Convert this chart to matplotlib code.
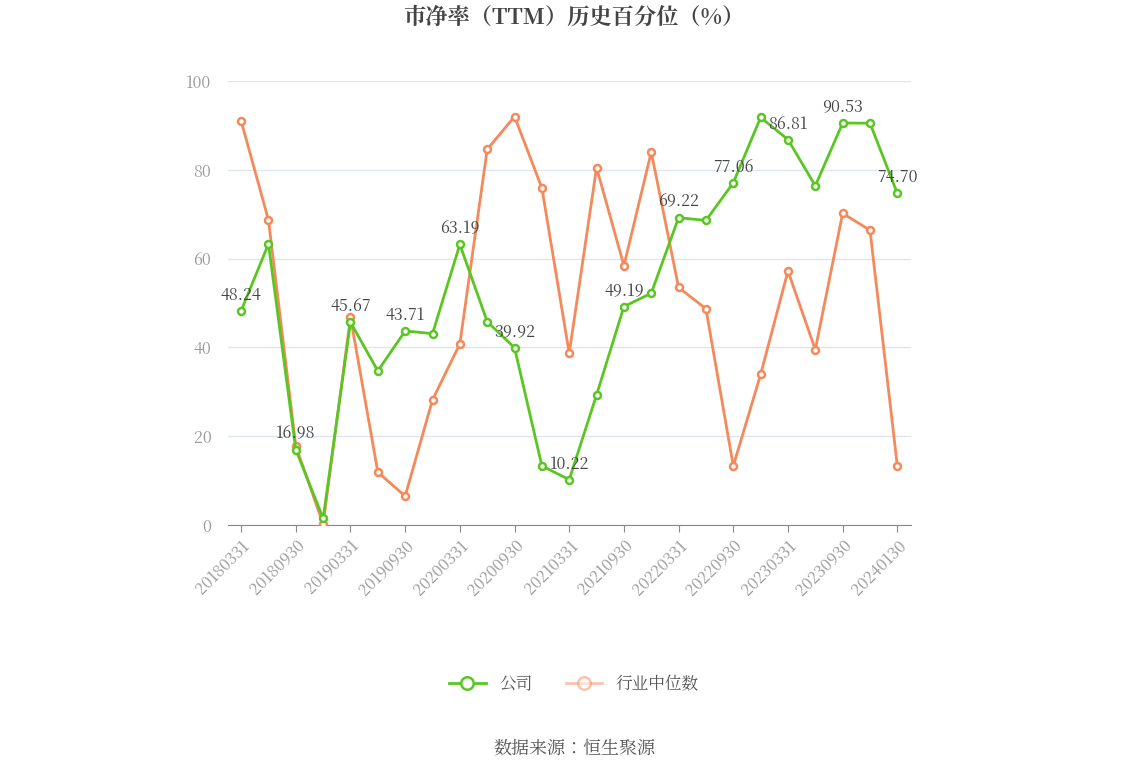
import matplotlib
matplotlib.use("Agg")
import matplotlib.pyplot as plt
from matplotlib import font_manager

cjk = [f.name for f in font_manager.fontManager.ttflist if "CJK" in f.name]
pref = [n for n in cjk if "SC" in n] or cjk
plt.rcParams["font.family"] = "sans-serif"
plt.rcParams["font.sans-serif"] = (pref[:1] if pref else []) + ["Noto Sans CJK SC", "DejaVu Sans"]

dates = ["20180331","20180630","20180930","20181231","20190331","20190630","20190930","20191231",
         "20200331","20200630","20200930","20201231","20210331","20210630","20210930","20211231",
         "20220331","20220630","20220930","20221231","20230331","20230630","20230930","20231231","20240130"]
company = [48.24,63.3,16.98,1.5,45.67,34.7,43.71,43.1,63.19,45.8,39.92,13.3,10.22,29.3,49.19,52.2,
           69.22,68.6,77.06,91.8,86.81,76.4,90.53,90.5,74.70]
industry = [91.0,68.7,17.8,0.2,46.8,11.9,6.5,28.2,40.8,84.6,92.0,75.9,38.7,80.5,58.4,84.0,
            53.5,48.7,13.3,33.9,57.2,39.5,70.2,66.4,13.3]

fig = plt.figure(figsize=(11.48, 7.76), dpi=100)
ax = fig.add_axes([228/1148, 1-525/776, (911-228)/1148, (525-81)/776])
x = list(range(len(dates)))
green = "#5ac623"; orange = "#f5895a"
ax.plot(x, industry, color=orange, lw=2, marker="o", ms=5, mfc="white", mec=orange, mew=1.8, zorder=3, label="行业中位数")
ax.plot(x, company, color=green, lw=2, marker="o", ms=5, mfc="white", mec=green, mew=1.8, zorder=4, label="公司")
for i in range(0, len(x), 2):
    ax.annotate(f"{company[i]:.2f}", (x[i], company[i]), xytext=(0, 5), textcoords="offset points",
                ha="center", va="bottom", fontsize=11.5, color="#444444", zorder=5)
ax.set_xlim(-0.48, 24.5)
ax.set_ylim(0, 100)
ax.set_yticks([0,20,40,60,80,100])
ax.tick_params(axis="y", length=0, labelsize=11.5, labelcolor="#999999", pad=12)
ax.set_xticks(x[::2])
ax.set_xticklabels(dates[::2], rotation=45, ha="right", rotation_mode="anchor", fontsize=11.5, color="#999999")
ax.tick_params(axis="x", length=5, color="#888888")
ax.grid(axis="y", color="#e0e6f1", lw=1)
ax.set_axisbelow(True)
for s in ["top","right","left"]:
    ax.spines[s].set_visible(False)
ax.spines["bottom"].set_color("#888888")
fig.text(0.5, 1-18/776, "市净率（TTM）历史百分位（%）", ha="center", va="center", fontsize=16, fontweight="bold", color="#444444")
h, l = ax.get_legend_handles_labels()
leg = fig.legend([h[1], h[0]], [l[1], l[0]], loc="center", bbox_to_anchor=(0.5, 1-684/776), ncol=2, frameon=False,
                 fontsize=12, markerscale=1.8, handlelength=2.2, columnspacing=2)
for t in leg.get_texts():
    t.set_color("#555555")
leg.get_lines()[1].set_alpha(0.5)
fig.text(0.5, 1-748/776, "数据来源：恒生聚源", ha="center", va="center", fontsize=13, color="#555555")
fig.savefig("out.png", dpi=100)
